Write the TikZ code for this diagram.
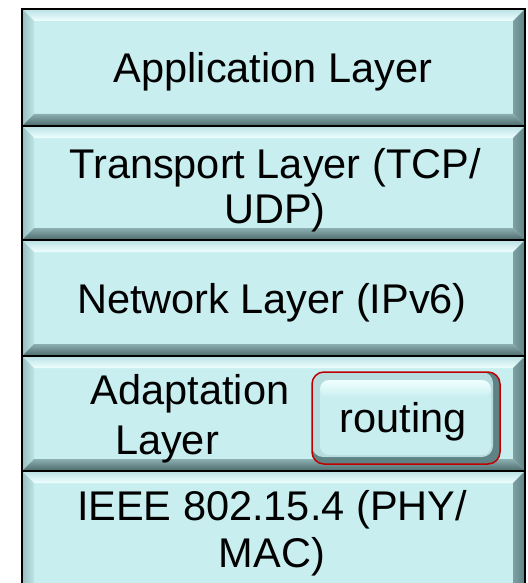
\documentclass[tikz,border=0pt]{standalone}
\usepackage{fontspec}
\setmainfont{Liberation Sans}
\usetikzlibrary{calc}
\definecolor{face}{RGB}{200,238,240}
\definecolor{bevtopout}{RGB}{185,225,228}
\definecolor{bevtopin}{RGB}{240,255,255}
\definecolor{bevleftout}{RGB}{150,190,192}
\definecolor{bevleftin}{RGB}{190,228,230}
\definecolor{bevrightin}{RGB}{125,160,162}
\definecolor{bevrightout}{RGB}{95,130,132}
\definecolor{bevbotin}{RGB}{140,175,177}
\definecolor{bevbotout}{RGB}{75,105,107}
\definecolor{routered}{RGB}{192,0,0}
\newcommand\bevbox[4]{%
  \fill[face] (#1,#2) rectangle (#3,#4);
  \shade[top color=bevtopout, bottom color=bevtopin]
    (#1,#2) -- (#3,#2) -- ({#3-12},{#2+12}) -- ({#1+12},{#2+12}) -- cycle;
  \shade[left color=bevleftout, right color=bevleftin]
    (#1,#2) -- ({#1+12},{#2+12}) -- ({#1+12},{#4-12}) -- (#1,#4) -- cycle;
  \shade[left color=bevrightin, right color=bevrightout]
    (#3,#2) -- ({#3-12},{#2+12}) -- ({#3-12},{#4-12}) -- (#3,#4) -- cycle;
  \shade[top color=bevbotin, bottom color=bevbotout]
    (#1,#4) -- ({#1+12},{#4-12}) -- ({#3-12},{#4-12}) -- (#3,#4) -- cycle;
  \draw[line width=2.5pt] (#1,#2) rectangle (#3,#4);
}
\tikzset{
  lbl/.style={anchor=base, inner sep=0pt, font=\fontsize{41.5}{45}\selectfont, text=black}
}
\begin{document}
\begin{tikzpicture}[x=1pt,y=-1pt]
\useasboundingbox (0,0) rectangle (527,583);
\clip (0,0) rectangle (527,583);
\fill[white] (0,0) rectangle (527,583);
\bevbox{22}{9}{525}{126}
\bevbox{22}{126}{525}{240}
\bevbox{22}{240}{525}{356}
\bevbox{22}{356}{525}{471}
\bevbox{22}{471}{525}{600}
% routing button
\fill[bevrightout, rounded corners=12] (312,372) rectangle (500,464);
\fill[bevleftin!80!bevleftout, rounded corners=11] (312,372) rectangle (493,457);
\fill[face, rounded corners=9] (320,382) rectangle (491,455);
\shade[rounded corners=9, top color=bevtopin, bottom color=face] (320,380) rectangle (491,398);
\draw[routered, line width=1.5pt, rounded corners=12] (312,372) rectangle (500,464);
% texts
\node[lbl] (app) at (273,83) {Application Layer};
\node[lbl] (tr1) at (275,178) {Transport Layer (TCP/};
\node[lbl] (tr2) at (275,223) {UDP)};
\node[lbl] (net) at (272,313) {Network Layer (IPv6)};
\node[lbl] (ad1) at (190,404) {Adaptation};
\node[lbl] (ad2) at (167,454) {Layer};
\node[lbl] (rt) at (403,432) {routing};
\node[lbl] (ie1) at (272,520) {IEEE 802.15.4 (PHY/};
\node[lbl] (ie2) at (272,567) {MAC)};
\end{tikzpicture}
\end{document}
